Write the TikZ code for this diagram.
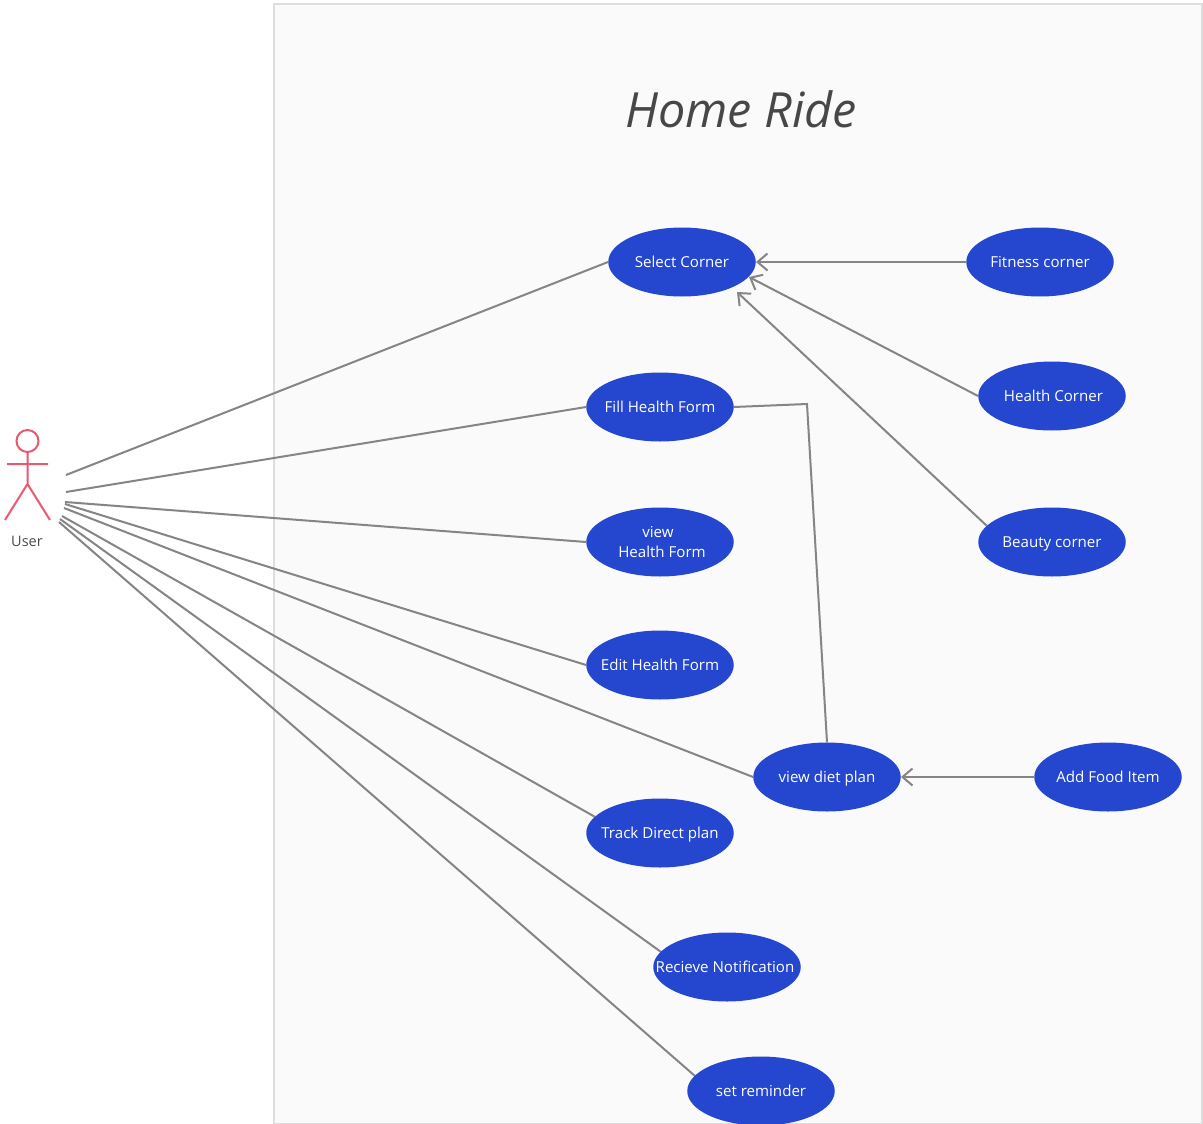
\documentclass[tikz,border=0pt]{standalone}
\usepackage{fontspec}
\setmainfont{Open Sans}
\usetikzlibrary{arrows.meta,shapes.geometric}
\definecolor{ucfill}{HTML}{2547CF}
\definecolor{ln}{HTML}{858585}
\definecolor{act}{HTML}{E8596F}
\pgfdeclarelayer{under}
\pgfsetlayers{under,main}
\newcommand\ucl[3][0pt]{\makebox[0pt]{\hspace{#1}\raisebox{#2}[0pt][0pt]{#3}}}
\begin{document}
\begin{tikzpicture}[x=1pt,y=-1pt,
 uc/.style={ellipse,fill=ucfill,minimum width=147.5pt,minimum height=69pt,inner sep=0pt,text=white,font=\fontsize{15.1}{19.5}\selectfont},
 con/.style={draw=ln,line width=2pt},
 arr/.style={con,-{Straight Barb[length=10pt,width=17pt,line width=2pt]}},
 actor/.style={draw=act,line width=2pt}]
\useasboundingbox (0,0) rectangle (1203,1124);
\node (title) at (741,109) {\fontsize{48.5}{56}\selectfont\itshape\color{black!72}Home Ride};
\node[uc] (sel) at (682,262) {\ucl{-5pt}{Select Corner}};
\node[uc] (fit) at (1040,262) {\ucl{-5pt}{Fitness corner}};
\node[uc] (hea) at (1052,396) {\ucl[3pt]{-5pt}{Health Corner}};
\node[uc] (bea) at (1052,542) {\ucl{-5pt}{Beauty corner}};
\node[uc] (fil) at (660,407) {\ucl{-5pt}{Fill Health Form}};
\node[uc] (vie) at (660,542) {\ucl[-4pt]{5pt}{view}\ucl[4pt]{-15pt}{Health Form}};
\node[uc] (edi) at (660,665) {\ucl{-5pt}{Edit Health Form}};
\node[uc] (die) at (827,777) {\ucl{-5pt}{view diet plan}};
\node[uc] (foo) at (1108,777) {\ucl{-5pt}{Add Food Item}};
\node[uc] (tra) at (660,833) {\ucl{-5pt}{Track Direct plan}};
\node[uc] (rec) at (727,967) {\ucl[-4pt]{-5pt}{Recieve Notification}};
\node[uc] (rem) at (761,1091) {\ucl{-5pt}{set reminder}};
\node (user) at (27,541) {\fontsize{14.5}{18}\selectfont\color{black!70}User};
\coordinate (u1) at (66,475);
\coordinate (u2) at (66,492);
\coordinate (u3) at (65,502);
\coordinate (u4) at (65,504);
\coordinate (u5) at (64,508);
\coordinate (u6) at (62,516);
\coordinate (u7) at (60,519);
\coordinate (u8) at (59,522);
\coordinate (bend) at (807,404);
\coordinate (selh) at (749,277);
\coordinate (selb) at (737,292);
\begin{pgfonlayer}{under}
\fill[white] (0,0) rectangle (1203,1124);
\draw[fill=black!2,draw=black!13,line width=2pt] (274,4) -- (1202,4) -- (1202,1124) -- (274,1124) -- cycle;
\draw[con] (u1) -- (sel.west);
\draw[con] (u2) -- (fil.west);
\draw[con] (u3) -- (vie.west);
\draw[con] (u4) -- (edi.west);
\draw[con] (u5) -- (die.west);
\draw[con] (u6) -- (tra.166);
\draw[con] (u7) -- (rec.167);
\draw[con] (u8) -- (rem.167);
\draw[arr] (fit.west) -- (sel.east);
\draw[arr] (hea.west) -- (selh);
\draw[arr] (bea.166) -- (selb);
\draw[arr] (foo.west) -- (die.east);
\draw[con] (fil.east) -- (bend) -- (die.north);
\end{pgfonlayer}
\draw[actor] (27.5,441) circle (11pt);
\draw[actor] (27.5,452) -- (27.5,484) (7,464) -- (48,464) (27.5,484) -- (5,520) (27.5,484) -- (50,520);
\end{tikzpicture}
\end{document}
